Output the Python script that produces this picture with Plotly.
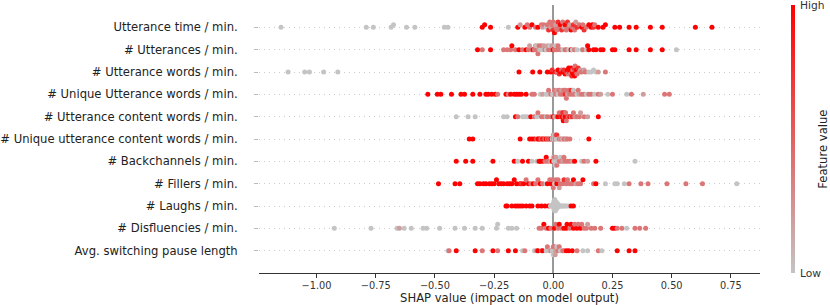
import numpy as np
import plotly.graph_objects as go

# ---------------- data ----------------
features = [
    "Utterance time / min.",
    "# Utterances / min.",
    "# Utterance words / min.",
    "# Unique Utterance words / min.",
    "# Utterance content words / min.",
    "# Unique utterance content words / min.",
    "# Backchannels / min.",
    "# Fillers / min.",
    "# Laughs / min.",
    "# Disfluencies / min.",
    "Avg. switching pause length",
]

utt_time_shap = [-1.15, -0.79, -0.76, -0.685, -0.675, -0.62, -0.585, -0.46, -0.445, -0.30,
                 -0.29, -0.265, -0.19, -0.15, -0.14, -0.12, -0.11, -0.10, -0.09, -0.075,
                 -0.065, -0.05, -0.045, -0.04, -0.03, -0.025, -0.02, -0.015, -0.01, -0.005,
                 0.0, 0.0, 0.005, 0.01, 0.01, 0.015, 0.02, 0.025, 0.03, 0.035,
                 0.04, 0.045, 0.05, 0.055, 0.06, 0.065, 0.07, 0.075, 0.08, 0.085,
                 0.09, 0.095, 0.10, 0.11, 0.12, 0.125, 0.13, 0.14, 0.15, 0.16,
                 0.165, 0.17, 0.175, 0.19, 0.21, 0.22, 0.26, 0.28, 0.32, 0.35,
                 0.41, 0.46, 0.60, 0.67]
utt_time_feat = [0, 0, 0, 0, 0, 0, 0, 0, 0, 1,
                 1, 1, 0, 1, 0.2, 1, 0.4, 0.4, 1, 0.4,
                 1, 0.4, 0.2, 0.4, 0, 0.4, 0.75, 0.4, 0.2, 0.4,
                 0.75, 0.4, 1, 0.4, 0.2, 0.4, 0.75, 0.4, 1, 0.75,
                 0.4, 0.2, 1, 0.4, 0.75, 0.4, 0.2, 1, 0.4, 0.75,
                 0.4, 0.2, 0.75, 0.4, 1, 0.4, 0.75, 0.4, 1, 1,
                 1, 0.75, 0.4, 1, 1, 1, 1, 1, 1, 1,
                 1, 1, 1, 1]

n_utt_shap = [-0.32, -0.30, -0.265, -0.21, -0.195, -0.18, -0.175, -0.16, -0.145, -0.13,
              -0.115, -0.105, -0.10, -0.09, -0.085, -0.08, -0.075, -0.07, -0.07, -0.065,
              -0.06, -0.06, -0.055, -0.05, -0.045, -0.04, -0.035, -0.03, -0.025, -0.02,
              -0.015, -0.01, -0.005, 0.0, 0.005, 0.01, 0.015, 0.02, 0.03, 0.04,
              0.05, 0.055, 0.065, 0.075, 0.08, 0.09, 0.10, 0.12, 0.125, 0.14,
              0.145, 0.15, 0.17, 0.18, 0.20, 0.21, 0.25, 0.26, 0.32, 0.35,
              0.41, 0.46, 0.52]
n_utt_feat = [1, 0.4, 1, 0.4, 0.4, 0.4, 1, 0.4, 1, 0.4,
              1, 0.4, 0.2, 0.4, 1, 0.4, 0.2, 0.4, 0, 0.4,
              0.2, 0.4, 0, 0.4, 0, 0.2, 0.4, 0, 0.2, 0.4,
              0, 0.4, 0.2, 1, 0.4, 0, 0.4, 0.4, 0.4, 0,
              0.4, 0.4, 0, 1, 0, 0.4, 0, 0, 0.4, 0,
              1, 1, 1, 1, 1, 1, 1, 1, 1, 1,
              1, 1, 0]

utt_words_shap = [-1.12, -1.05, -1.03, -0.97, -0.91, -0.145, -0.087, -0.057, -0.025, -0.01,
                  -0.005, 0.01, 0.015, 0.02, 0.025, 0.03, 0.035, 0.04, 0.045, 0.05,
                  0.055, 0.06, 0.062, 0.065, 0.068, 0.07, 0.072, 0.075, 0.078, 0.08,
                  0.082, 0.085, 0.088, 0.09, 0.092, 0.095, 0.098, 0.10, 0.105, 0.11,
                  0.115, 0.12, 0.13, 0.135, 0.15, 0.16, 0.17, 0.18, 0.19, 0.22]
utt_words_feat = [0, 0, 0, 0, 0, 1, 1, 1, 1, 1,
                  0.75, 1, 0.4, 1, 0.75, 1, 0.4, 1, 0.75, 1,
                  0.75, 1, 0.4, 1, 0.75, 1, 0.4, 1, 0.75, 1,
                  0.4, 1, 0.75, 1, 0.4, 0.75, 1, 0.4, 0.75, 0.4,
                  0.2, 0.4, 0.2, 0.4, 0, 0, 0, 0, 0.2, 0.4]

uniq_words_shap = [-0.53, -0.49, -0.475, -0.43, -0.39, -0.375, -0.34, -0.31, -0.285, -0.275,
                   -0.26, -0.245, -0.235, -0.20, -0.19, -0.18, -0.165, -0.155, -0.145, -0.135,
                   -0.115, -0.09, -0.08, -0.055, -0.045, -0.03, -0.025, -0.02, -0.01, -0.003,
                   0.005, 0.01, 0.015, 0.02, 0.025, 0.03, 0.035, 0.04, 0.045, 0.05,
                   0.052, 0.055, 0.06, 0.065, 0.07, 0.075, 0.08, 0.085, 0.09, 0.10,
                   0.105, 0.11, 0.12, 0.13, 0.14, 0.15, 0.16, 0.175, 0.19, 0.20,
                   0.23, 0.25, 0.31, 0.33, 0.38, 0.47, 0.49]
uniq_words_feat = [1, 1, 1, 1, 1, 1, 1, 1, 1, 1,
                   1, 1, 0.4, 1, 0.4, 1, 1, 1, 1, 1,
                   1, 0.4, 0.4, 0, 0.2, 0, 0, 0.4, 0.4, 0,
                   0.4, 0.4, 0.2, 0, 0.4, 0.4, 0.2, 0.4, 0.4, 0.75,
                   0.4, 0.4, 0.2, 0.4, 0.4, 0.75, 0.4, 0, 0.4, 0,
                   0.4, 0.2, 0.4, 0.4, 0, 0.4, 0.4, 0, 0.4, 0.2,
                   0, 0.4, 0, 0.4, 0.2, 0.4, 0.4]

content_shap = [-0.41, -0.36, -0.33, -0.21, -0.195, -0.16, -0.15, -0.13, -0.12, -0.11,
                -0.095, -0.08, -0.07, -0.065, -0.05, -0.04, -0.03, -0.025, -0.01, 0.0,
                0.005, 0.01, 0.015, 0.02, 0.025, 0.03, 0.032, 0.035, 0.038, 0.04,
                0.042, 0.045, 0.048, 0.05, 0.052, 0.055, 0.06, 0.065, 0.07, 0.075,
                0.08, 0.085, 0.09, 0.095, 0.10, 0.11, 0.115, 0.13, 0.145, 0.19]
content_feat = [0, 0, 0, 0, 0, 1, 0.4, 0, 0, 0,
                1, 0.4, 0, 0.4, 0.4, 0.4, 0, 0.4, 0.4, 1,
                0.4, 0, 0.4, 1, 0.4, 1, 0.75, 0.4, 1, 0.75,
                1, 0.4, 0.75, 1, 0.4, 0.4, 0.75, 0.4, 1, 0.4,
                0.75, 0.4, 0.4, 0.2, 0.4, 0.4, 0.2, 0.4, 0.2, 1]

uniq_content_shap = [-0.355, -0.34, -0.14, -0.10, -0.09, -0.08, -0.07, -0.065, -0.06, -0.055,
                     -0.05, -0.045, -0.04, -0.035, -0.03, -0.025, -0.02, -0.015, -0.01, -0.005,
                     0.0, 0.0, 0.003, 0.005, 0.008, 0.01, 0.012, 0.015, 0.02, 0.025,
                     0.03, 0.035, 0.04, 0.045, 0.05, 0.055, 0.06, 0.07, 0.15]
uniq_content_feat = [1, 1, 1, 1, 1, 1, 0.4, 1, 1, 0.75,
                     0.4, 1, 0.75, 0.4, 1, 0.4, 0.75, 0.4, 1, 0,
                     0.4, 0.2, 0, 0, 0.4, 0.4, 0, 0.75, 0, 0.4,
                     0.2, 0.4, 0, 0.4, 0.4, 0.2, 0.4, 0.4, 1]

backch_shap = [-0.41, -0.37, -0.34, -0.255, -0.165, -0.15, -0.13, -0.105, -0.09, -0.07,
               -0.06, -0.055, -0.045, -0.035, -0.03, -0.025, -0.015, -0.01, -0.005, 0.0,
               0.002, 0.005, 0.008, 0.01, 0.012, 0.015, 0.02, 0.025, 0.03, 0.035,
               0.04, 0.045, 0.05, 0.06, 0.07, 0.08, 0.09, 0.12, 0.13, 0.145,
               0.18, 0.345]
backch_feat = [1, 1, 1, 1, 1, 0, 1, 1, 0, 0,
               1, 1, 1, 0.4, 1, 0.4, 0.4, 0, 1, 0,
               0, 0.4, 0, 0, 0.2, 0.4, 0, 0.4, 0, 0.4,
               0.2, 0.4, 0.4, 0.4, 0.4, 0.2, 1, 0, 0.4, 0.2,
               1, 0]

fillers_shap = [-0.485, -0.415, -0.395, -0.32, -0.31, -0.295, -0.285, -0.27, -0.26, -0.25,
                -0.24, -0.23, -0.22, -0.21, -0.195, -0.185, -0.175, -0.165, -0.155, -0.14,
                -0.135, -0.125, -0.115, -0.105, -0.095, -0.085, -0.075, -0.065, -0.055, -0.045,
                -0.03, -0.025, -0.015, -0.01, -0.005, 0.0, 0.005, 0.01, 0.015, 0.02,
                0.025, 0.03, 0.04, 0.045, 0.055, 0.06, 0.07, 0.08, 0.085, 0.095,
                0.105, 0.115, 0.125, 0.17, 0.18, 0.22, 0.26, 0.27, 0.30, 0.32,
                0.37, 0.40, 0.48, 0.56, 0.63, 0.775]
fillers_feat = [1, 1, 1, 1, 1, 1, 1, 1, 1, 1,
                1, 1, 1, 1, 1, 1, 1, 1, 1, 1,
                0.75, 1, 0.4, 1, 0.4, 1, 0.4, 0.4, 1, 0.4,
                0, 1, 0.4, 1, 0.4, 0.4, 0, 0.4, 1, 0.4,
                0.2, 0.4, 0.4, 0.75, 0.4, 0.4, 0.4, 0.4, 1, 0.2,
                0.4, 0.4, 1, 0.4, 1, 0, 0, 0, 0, 0.4,
                0.4, 0.4, 0.4, 0.4, 0.4, 0]

laughs_shap = [-0.20, -0.195, -0.175, -0.16, -0.15, -0.14, -0.13, -0.115, -0.10, -0.09,
               -0.065, -0.05, -0.035, -0.02, -0.012, -0.008, -0.003, -0.003, 0.0, 0.0,
               0.003, 0.003, 0.003, 0.003, 0.003, 0.003, 0.006, 0.006, 0.006, 0.006,
               0.006, 0.006, 0.006, 0.006, 0.009, 0.009, 0.009, 0.009, 0.009, 0.009,
               0.009, 0.012, 0.012, 0.012, 0.012, 0.012, 0.015, 0.015, 0.015, 0.015,
               0.018, 0.018, 0.018, 0.021, 0.021, 0.025, 0.028, 0.032, 0.036, 0.04,
               0.045, 0.05, 0.057, 0.065, 0.075, 0.085]
laughs_feat = [1, 1, 1, 1, 1, 1, 1, 1, 1, 1,
               1, 1, 1, 1, 0, 0, 0, 0, 0, 0,
               0, 0, 0, 0, 0, 0, 0, 0, 0, 0,
               0, 0, 0, 0, 0, 0, 0, 0, 0, 0,
               0, 0, 0, 0, 0, 0, 0, 0, 0, 0,
               0, 0, 0, 0, 0, 0, 0, 0, 0, 0,
               0, 0, 0, 0, 1, 1]

disfl_shap = [-0.925, -0.77, -0.66, -0.65, -0.63, -0.60, -0.55, -0.535, -0.48, -0.415,
              -0.375, -0.33, -0.30, -0.24, -0.235, -0.19, -0.175, -0.155, -0.06, -0.05,
              -0.04, -0.03, -0.02, -0.01, 0.005, 0.01, 0.02, 0.025, 0.035, 0.045,
              0.055, 0.058, 0.07, 0.075, 0.085, 0.09, 0.10, 0.105, 0.115, 0.12,
              0.13, 0.14, 0.145, 0.16, 0.175, 0.20, 0.25, 0.26, 0.27, 0.29,
              0.31, 0.345, 0.365, 0.39]
disfl_feat = [0, 0, 0, 0.2, 0, 0, 0, 0, 0, 0,
              0, 0, 0, 0, 0, 0, 0, 0, 0.4, 0.4,
              1, 0.4, 1, 0.4, 1, 0.4, 0.4, 1, 0.4, 1,
              1, 1, 0.4, 1, 1, 0.4, 1, 0.4, 1, 0.4,
              0.4, 0.4, 0.2, 0.4, 0.4, 0.4, 1, 1, 0.4, 0.4,
              0, 0.4, 0.4, 0.4]

pause_shap = [-0.445, -0.44, -0.41, -0.33, -0.30, -0.255, -0.235, -0.19, -0.16, -0.13,
              -0.12, -0.08, -0.07, -0.065, -0.05, -0.045, -0.03, -0.025, -0.015, -0.01,
              -0.005, 0.0, 0.0, 0.003, 0.005, 0.008, 0.01, 0.015, 0.02, 0.025,
              0.03, 0.04, 0.045, 0.055, 0.065, 0.08, 0.10, 0.125, 0.145, 0.19,
              0.205, 0.27, 0.32, 0.345]
pause_feat = [0, 0.4, 1, 1, 0.4, 1, 0.4, 1, 1, 0,
              0.4, 0, 0.4, 1, 0.4, 1, 0, 0.4, 0, 0.4,
              0, 0.4, 0, 0, 0.4, 0.2, 0.2, 0, 0.4, 0.4,
              0, 0.4, 0.4, 1, 1, 1, 0.4, 0, 0, 0.4,
              0, 1, 1, 1]

row_shap = [utt_time_shap, n_utt_shap, utt_words_shap, uniq_words_shap, content_shap,
            uniq_content_shap, backch_shap, fillers_shap, laughs_shap, disfl_shap, pause_shap]
row_feat = [utt_time_feat, n_utt_feat, utt_words_feat, uniq_words_feat, content_feat,
            uniq_content_feat, backch_feat, fillers_feat, laughs_feat, disfl_feat, pause_feat]

x_ticks = [-1.0, -0.75, -0.5, -0.25, 0.0, 0.25, 0.5, 0.75]
colorbar_labels = ["Low", "High"]


# ---------------- beeswarm layout (SHAP style) ----------------
def swarm_offsets(vals, row_height=0.4, nbins=100):
    v = np.asarray(vals, dtype=float)
    quant = np.round(nbins * (v - v.min()) / (v.max() - v.min() + 1e-8))
    inds = np.argsort(quant, kind="stable")
    ys = np.zeros(len(v))
    layer, last = 0, None
    for i in inds:
        if quant[i] != last:
            layer = 0
        ys[i] = np.ceil(layer / 2) * ((layer % 2) * 2 - 1)
        layer += 1
        last = quant[i]
    ys *= 0.9 * (row_height / np.max(ys + 1))
    return ys


n = len(features)
xs, ys, cs = [], [], []
for k, (sv, fv) in enumerate(zip(row_shap, row_feat)):
    m = min(len(sv), len(fv))
    sv, fv = sv[:m], fv[:m]
    pos = n - 1 - k
    off = swarm_offsets(sv)
    xs.extend(sv)
    ys.extend(list(pos + off))
    cs.extend(fv)

fig = go.Figure()
fig.add_trace(go.Scatter(
    x=xs, y=ys, mode="markers",
    marker=dict(size=5, color=cs, coloraxis="coloraxis", line=dict(width=0)),
    hoverinfo="skip", showlegend=False,
))

font_fam = "DejaVu Sans"
L, W = 259, 501  # plot-area left edge and width in px (for annotation placement)
fig.update_layout(
    width=830, height=305,
    margin=dict(l=L, r=830 - L - W, t=5, b=32),
    paper_bgcolor="white", plot_bgcolor="white",
    font=dict(family=font_fam, color="#222222"),
    coloraxis=dict(
        cmin=0, cmax=1,
        colorscale=[[0, "#c4c4c4"], [1, "#ff0000"]],
        colorbar=dict(
            x=(791 - L) / W, xanchor="left", y=1, yanchor="top", len=1, lenmode="fraction",
            thickness=4, outlinewidth=0, xpad=0, ypad=0,
            showticklabels=False, ticks="",
        ),
    ),
    xaxis=dict(
        range=[-1.243, 0.873], automargin=False,
        tickvals=x_ticks,
        ticktext=[("−" if t < 0 else "") + f"{abs(t):.2f}" for t in x_ticks],
        ticks="outside", ticklen=3.5, tickcolor="#333333",
        showline=True, linecolor="#333333", linewidth=1,
        showgrid=False, zeroline=True, zerolinecolor="#999999", zerolinewidth=1.5,
        tickfont=dict(size=9.8, family=font_fam, color="#333333"),
        title=dict(text="SHAP value (impact on model output)", standoff=5,
                   font=dict(size=11.6, family=font_fam, color="#222222")),
    ),
    yaxis=dict(
        range=[-1, n], automargin=False,
        tickvals=list(range(n - 1, -1, -1)), ticktext=features,
        ticks="outside", ticklen=4, tickcolor="#bbbbbb",
        showline=False, zeroline=False,
        showgrid=True, gridcolor="#cccccc", gridwidth=1, griddash="1px,4px",
        tickfont=dict(size=11.6, family=font_fam, color="#222222"),
        ticklabelstandoff=14,
    ),
    annotations=[
        dict(text="Feature value", xref="paper", yref="paper",
             x=(823 - L) / W, y=0.46, xanchor="center", yanchor="middle",
             textangle=-90, showarrow=False,
             font=dict(size=11.6, family=font_fam, color="#222222")),
        dict(text=colorbar_labels[1], xref="paper", yref="paper",
             x=(798 - L) / W, y=1.0, xanchor="left", yanchor="middle",
             showarrow=False, font=dict(size=10.7, family=font_fam, color="#333333")),
        dict(text=colorbar_labels[0], xref="paper", yref="paper",
             x=(798 - L) / W, y=0.0, xanchor="left", yanchor="middle",
             showarrow=False, font=dict(size=10.7, family=font_fam, color="#333333")),
    ],
)

fig.write_html("out.html", config={"displayModeBar": False},
               post_script="document.body.style.margin='0';")
